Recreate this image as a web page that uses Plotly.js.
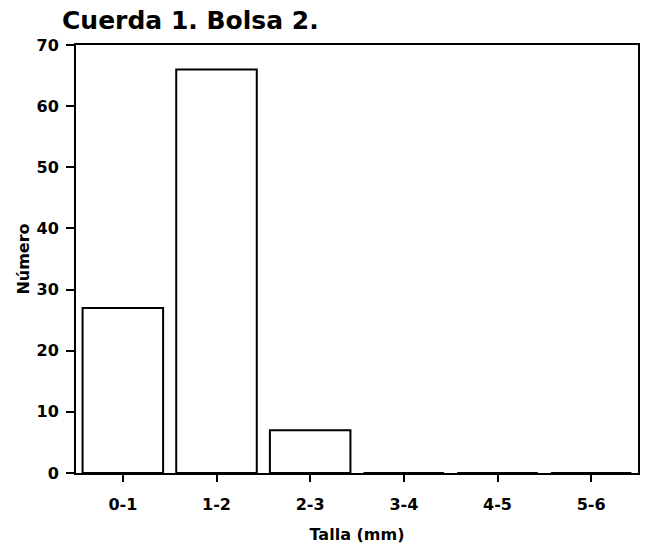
<!DOCTYPE html>
<html>
<head>
<meta charset="utf-8">
<script src="https://cdn.plot.ly/plotly-3.0.1.min.js"></script>
<style>
  html, body { margin: 0; padding: 0; background: #fff; }
</style>
</head>
<body>
<div id="chart" style="width:646px;height:551px;"></div>
<script>
// Size classes and counts
var tallas = ["0-1", "1-2", "2-3", "3-4", "4-5", "5-6"];
var numero = [27, 66, 7, 0, 0, 0];

var fuente = "DejaVu Sans, Arial, sans-serif";

var barras = [{
  type: "bar",
  x: tallas,
  y: numero,
  width: 0.86,
  marker: {
    color: "white",
    line: { color: "black", width: 2 }
  },
  hoverinfo: "x+y"
}];

var diseno = {
  width: 646,
  height: 551,
  margin: { l: 76, r: 8, t: 45, b: 78 },
  paper_bgcolor: "white",
  plot_bgcolor: "white",
  showlegend: false,
  font: { family: fuente, size: 16, color: "black", weight: "bold" },
  title: {
    text: "<b>Cuerda 1. Bolsa 2.</b>",
    font: { family: fuente, size: 25, color: "black" },
    xref: "container", yref: "container",
    x: 62 / 646, xanchor: "left",
    y: 1 - 20 / 551, yanchor: "middle"
  },
  xaxis: {
    type: "category",
    range: [-0.5, 5.5],
    showline: true, linecolor: "black", linewidth: 2, mirror: true,
    ticks: "outside", ticklen: 7, tickwidth: 2, tickcolor: "black",
    ticklabelstandoff: 9,
    showgrid: false, zeroline: false,
    tickfont: { family: fuente, size: 16, weight: "bold" },
    title: { text: "<b>Talla (mm)</b>", font: { family: fuente, size: 16 }, standoff: 16 }
  },
  yaxis: {
    range: [0, 70],
    dtick: 10,
    showline: true, linecolor: "black", linewidth: 2, mirror: true,
    ticks: "outside", ticklen: 8, tickwidth: 2, tickcolor: "black",
    ticklabelstandoff: 4,
    showgrid: false, zeroline: false,
    tickfont: { family: fuente, size: 16, weight: "bold" },
    title: { text: "<b>Número</b>", font: { family: fuente, size: 16 }, standoff: 3 }
  }
};

Plotly.newPlot("chart", barras, diseno, { displayModeBar: false, staticPlot: true });
</script>
</body>
</html>
